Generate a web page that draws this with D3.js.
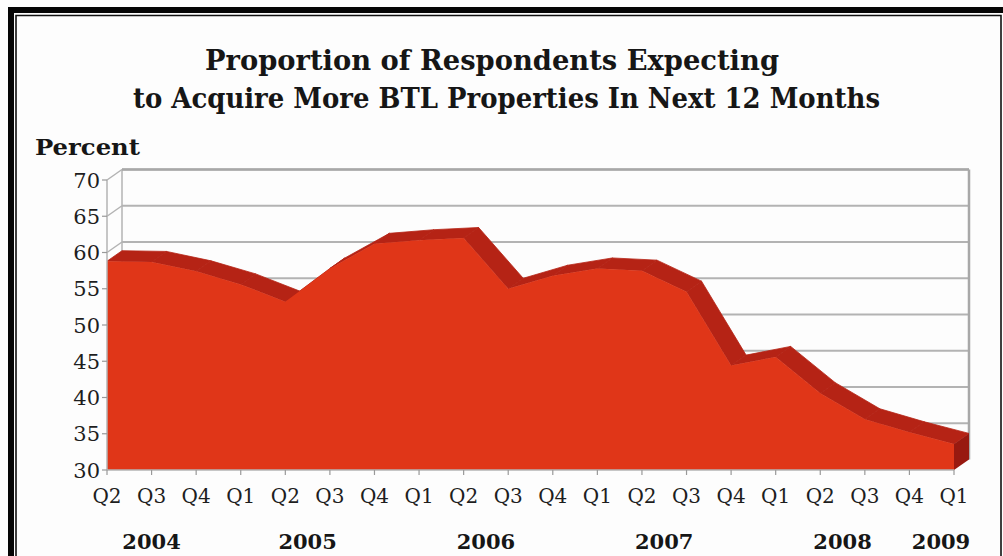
<!DOCTYPE html>
<html>
<head>
<meta charset="utf-8">
<script src="https://cdn.jsdelivr.net/npm/d3@7"></script>
<style>
  html, body { margin: 0; padding: 0; background: #ffffff; }
  svg { display: block; }
</style>
</head>
<body>
<svg id="chart" width="1003" height="556"></svg>
<script>
// Quarter labels along the x axis
const quarters = ["Q2","Q3","Q4","Q1","Q2","Q3","Q4","Q1","Q2","Q3",
                  "Q4","Q1","Q2","Q3","Q4","Q1","Q2","Q3","Q4","Q1"];
// Percent of respondents, one value per quarter (Q2 2004 .. Q1 2009)
const values = [58.8, 58.7, 57.4, 55.6, 53.2, 57.8, 61.2, 61.7, 62.0, 55.0,
                56.8, 57.8, 57.5, 54.6, 44.4, 45.6, 40.6, 37.0, 35.2, 33.6];
// Year labels with the first and last quarter index they cover
const years = ["2004", "2005", "2006", "2007", "2008", "2009"];
const yearStart = [0, 3, 7, 11, 15, 19];
const yearEnd   = [2, 6, 10, 14, 18, 19];
const yTicks = [30, 35, 40, 45, 50, 55, 60, 65, 70];
const titleLines = ["Proportion of Respondents Expecting",
                    "to Acquire More BTL Properties In Next 12 Months"];

const svg = d3.select("#chart");
const serif = "'DejaVu Serif', 'Liberation Serif', serif";

// page frame
svg.append("rect").attr("x", 0).attr("y", 0).attr("width", 1003).attr("height", 556).attr("fill", "#fdfdfd");
svg.append("rect").attr("x", 8).attr("y", 7).attr("width", 995).attr("height", 6).attr("fill", "#050505");
svg.append("rect").attr("x", 8).attr("y", 7).attr("width", 6).attr("height", 549).attr("fill", "#050505");
svg.append("path").attr("d", "M16,556 V15.5 H1001 V556")
  .attr("fill", "none").attr("stroke", "#111").attr("stroke-width", 1.6);

// title, two centred lines
const titleX = [492, 506.5], titleY = [70, 108], titleW = [574, 747];
svg.selectAll("text.title").data(titleLines).join("text")
  .attr("class", "title")
  .attr("x", (d, i) => titleX[i])
  .attr("y", (d, i) => titleY[i])
  .attr("text-anchor", "middle")
  .attr("textLength", (d, i) => titleW[i])
  .attr("lengthAdjust", "spacingAndGlyphs")
  .attr("font-family", serif).attr("font-weight", "bold").attr("font-size", 27.5)
  .attr("fill", "#161616")
  .text(d => d);

svg.append("text").attr("x", 35).attr("y", 155)
  .attr("textLength", 105).attr("lengthAdjust", "spacingAndGlyphs")
  .attr("font-family", serif).attr("font-weight", "bold").attr("font-size", 22.5)
  .attr("fill", "#161616").text("Percent");

// scales (front plane of the 3D area)
const x = d3.scalePoint().domain(d3.range(values.length)).range([107, 954]);
const y = d3.scaleLinear().domain([30, 70]).range([470, 180]);
const dx = 15, dy = -10.5;       // depth offset of the back wall
const x0 = x(0), x1 = x(values.length - 1);
const grid = "#b3b3b3";

// back wall gridlines
svg.append("g").selectAll("line").data(yTicks.filter(v => v > 30)).join("line")
  .attr("x1", x0 + dx).attr("x2", x1 + dx)
  .attr("y1", d => y(d) + dy).attr("y2", d => y(d) + dy)
  .attr("stroke", grid).attr("stroke-width", 2);

// left side wall: diagonals from front axis to back wall
svg.append("g").selectAll("line").data(yTicks).join("line")
  .attr("x1", x0).attr("x2", x0 + dx)
  .attr("y1", d => y(d)).attr("y2", d => y(d) + dy)
  .attr("stroke", grid).attr("stroke-width", 1.5);

// wall outlines
svg.append("line").attr("x1", x0 + dx).attr("x2", x0 + dx)
  .attr("y1", y(70) + dy).attr("y2", y(30) + dy).attr("stroke", grid).attr("stroke-width", 1.5);
svg.append("line").attr("x1", x1 + dx).attr("x2", x1 + dx)
  .attr("y1", y(70) + dy).attr("y2", y(30) + dy).attr("stroke", "#a8a8a8").attr("stroke-width", 2.5);
svg.append("line").attr("x1", x0 + dx).attr("x2", x1 + dx)
  .attr("y1", y(70) + dy).attr("y2", y(70) + dy).attr("stroke", "#a8a8a8").attr("stroke-width", 2.5);

// top (roof) of the 3D area, one quad per segment
const roof = svg.append("g");
for (let i = 0; i < values.length - 1; i++) {
  const ax = x(i), ay = y(values[i]), bx = x(i + 1), by = y(values[i + 1]);
  roof.append("path")
    .attr("d", `M${ax},${ay} L${bx},${by} L${bx + dx},${by + dy} L${ax + dx},${ay + dy} Z`)
    .attr("fill", "#b52315").attr("stroke", "#b52315").attr("stroke-width", 0.8);
}

// right end face
const last = values.length - 1;
svg.append("path")
  .attr("d", `M${x1},${y(values[last])} L${x1 + dx},${y(values[last]) + dy} L${x1 + dx},${y(30) + dy} L${x1},${y(30)} Z`)
  .attr("fill", "#981910");

// front face
const area = d3.area().x((d, i) => x(i)).y0(y(30)).y1(d => y(d));
svg.append("path").datum(values).attr("d", area).attr("fill", "#e03618");

// front axes
svg.append("line").attr("x1", x0).attr("x2", x0).attr("y1", y(70)).attr("y2", y(30))
  .attr("stroke", grid).attr("stroke-width", 1.5);
svg.append("line").attr("x1", x0).attr("x2", x1).attr("y1", y(30)).attr("y2", y(30))
  .attr("stroke", grid).attr("stroke-width", 1.5);

// y ticks and labels
svg.append("g").selectAll("line").data(yTicks).join("line")
  .attr("x1", x0 - 5).attr("x2", x0).attr("y1", d => y(d)).attr("y2", d => y(d))
  .attr("stroke", "#999").attr("stroke-width", 1.2);
svg.append("g").selectAll("text").data(yTicks).join("text")
  .attr("x", 100).attr("y", d => y(d) + 7.5)
  .attr("text-anchor", "end")
  .attr("font-family", serif).attr("font-size", 21).attr("fill", "#1e1e1e")
  .text(d => d);

// x ticks and labels
svg.append("g").selectAll("line").data(d3.range(values.length)).join("line")
  .attr("x1", d => x(d)).attr("x2", d => x(d)).attr("y1", y(30)).attr("y2", y(30) + 5)
  .attr("stroke", "#999").attr("stroke-width", 1.2);
svg.append("g").selectAll("text").data(quarters).join("text")
  .attr("x", (d, i) => x(i)).attr("y", 503)
  .attr("text-anchor", "middle")
  .attr("font-family", serif).attr("font-size", 20).attr("fill", "#1e1e1e")
  .text(d => d);

// year labels centred under their quarters
svg.append("g").selectAll("text").data(years).join("text")
  .attr("x", (d, i) => Math.min((x(yearStart[i]) + x(yearEnd[i])) / 2, x1 - 13))
  .attr("y", 549)
  .attr("text-anchor", "middle")
  .attr("font-family", serif).attr("font-weight", "bold").attr("font-size", 21).attr("fill", "#161616")
  .text(d => d);
</script>
</body>
</html>
